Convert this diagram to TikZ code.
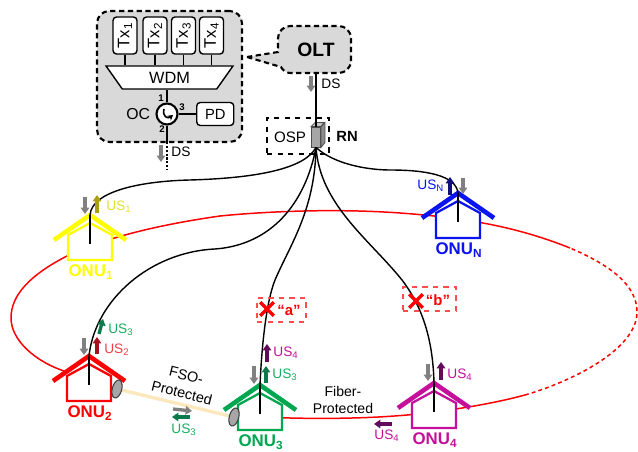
\documentclass[tikz,border=0pt]{standalone}
\usepackage{fontspec}
\setmainfont{Liberation Sans}
\usetikzlibrary{shapes.geometric, shapes.misc, arrows.meta, positioning, backgrounds, calc}
\definecolor{panelgray}{HTML}{D9D9D9}
\definecolor{flowgray}{HTML}{808080}
\definecolor{onuyellow}{HTML}{FFFF00}
\definecolor{onured}{HTML}{FF0000}
\definecolor{onugreen}{HTML}{00A650}
\definecolor{onumagenta}{HTML}{C4109A}
\definecolor{onublue}{HTML}{0A14F0}
\definecolor{usyellow}{HTML}{E0E030}
\definecolor{usred}{HTML}{F03C46}
\definecolor{usgreen}{HTML}{18AE62}
\definecolor{darkyellow}{HTML}{A8A010}
\definecolor{darkred}{HTML}{A81020}
\definecolor{darkgreen}{HTML}{0A7A4C}
\definecolor{darkpurple}{HTML}{640A5C}
\definecolor{darkblue}{HTML}{10107A}
\definecolor{beam}{HTML}{FBE8BD}
\definecolor{lensgray}{HTML}{A6A6A6}

\begin{document}
\begin{tikzpicture}[
  x=0.02cm, y=-0.02cm,
  panel/.style={draw=black, fill=panelgray, dash pattern=on 3pt off 2pt, line width=1.2pt, rounded corners=7pt},
  txbox/.style={rectangle, rounded corners=2pt, draw=black, fill=white, line width=0.8pt, rotate=90,
                minimum width=0.74cm, minimum height=0.48cm, inner sep=0pt,
                font=\fontsize{9.5}{10}\selectfont},
  wdmbox/.style={trapezium, shape border rotate=180, trapezium left angle=58, trapezium right angle=58,
                 draw=black, fill=white, line width=0.8pt, trapezium stretches=true,
                 minimum width=2.54cm, minimum height=0.46cm, inner sep=0pt,
                 font=\fontsize{9.3}{10}\selectfont},
  pdbox/.style={rectangle, rounded corners=2pt, draw=black, fill=white, line width=0.8pt,
                minimum width=0.74cm, minimum height=0.46cm, inner sep=0pt,
                font=\fontsize{8.4}{9}\selectfont},
  lbl/.style={font=\fontsize{8.4}{9}\selectfont, inner sep=0pt},
  portlbl/.style={font=\bfseries\fontsize{5.5}{6}\selectfont, inner sep=0pt},
  uslbl/.style={font=\fontsize{7.8}{8}\selectfont, inner sep=0pt, anchor=west},
  onulbl/.style={font=\bfseries\fontsize{9.6}{10}\selectfont, inner sep=0pt},
  faillbl/.style={draw=red!70, dashed, line width=0.6pt, minimum width=0.98cm, minimum height=0.48cm, inner sep=0pt},
  failx/.style={cross out, draw=red, line width=2pt, minimum size=0.2cm, inner sep=0pt},
  fiber/.style={black, line width=0.8pt},
  thickline/.style={black, line width=1.1pt},
  ring/.style={red, line width=0.85pt},
  flow/.style={-{Triangle[length=3.6pt,width=4.8pt]}, line width=1.9pt},
]
\useasboundingbox (0,0) rectangle (638,452);
% central office
\node[panel, minimum width=2.9cm, minimum height=2.62cm] (co) at (169.5,76.5) {};
\foreach \i/\x in {1/125,2/155,3/183.5,4/211.5}
  \node[txbox] (tx\i) at (\x,35.5) {Tx\textsubscript{\i}};
\node[wdmbox] (wdm) at (169.5,77.5) {WDM};
\foreach \i in {1,...,4}
  \draw[thickline, line width=0.8pt] (tx\i.west) -- (tx\i.west |- wdm.north);
\node[circle, draw=black, fill=white, line width=1.2pt, minimum size=0.42cm, inner sep=0pt] (circ) at (167,114) {};
\node[pdbox, right=0.35cm of circ] (pd) {PD};
\node[lbl, font=\fontsize{9}{10}\selectfont, left=0.1cm of circ] (oc) {OC};
\node[portlbl] (p1) at (161,98) {1};
\node[portlbl] (p2) at (162,129) {2};
\node[portlbl] (p3) at (182,107) {3};
\coordinate (coout) at (167,142);
\coordinate (dsend) at (167,170);
\draw[thickline] (wdm.south -| circ.north) -- (circ.north);
\draw[fiber] (circ.east) -- (pd.west);
\draw[thickline] (circ.south) -- (coout);
\draw[thickline, dash pattern=on 1.2pt off 1pt] (coout) -- (dsend);
\draw[-{Stealth[length=3pt,width=3.5pt]}, line width=0.9pt] ($(circ)+(-3,-5)$) .. controls ($(circ)+(-5,3)$) and ($(circ)+(1,5)$) .. ($(circ)+(6,1)$);
% olt bubble
\draw[panel, sharp corners] (247,57) -- (278,52) [rounded corners=7pt] -- (278,26) -- (351,26) -- (351,73) [rounded corners=3pt] -- (285,73) [sharp corners] -- (281,67) -- cycle;
\node[font=\bfseries\fontsize{11}{12}\selectfont, minimum width=1.46cm, minimum height=0.94cm, inner sep=0pt] (olt) at (316,49.5) {OLT};
% remote node
\node[draw=black, dashed, line width=0.6pt, minimum width=1.24cm, minimum height=0.72cm, inner sep=0pt] (rn) at (298,136) {};
\node[lbl, font=\fontsize{8.6}{9}\selectfont] (osp) at (290,137) {OSP};
\node[draw=black!70, fill=gray!70, line width=0.5pt, minimum width=0.18cm, minimum height=0.4cm, inner sep=0pt] (spl) at (316,137) {};
\draw[draw=black!70, fill=gray!45, line width=0.5pt] (spl.north west) -- ++(4,-4) -- ++(9,0) -- (spl.north east) -- cycle;
\draw[draw=black!70, fill=gray!90, line width=0.5pt] (spl.north east) -- ++(4,-4) -- ++(0,20) -- (spl.south east) -- cycle;
\node[font=\bfseries\fontsize{8.4}{9}\selectfont, inner sep=0pt] (rnlbl) at (347,136) {RN};
\draw[thickline] (spl.north |- olt.south) -- (spl.north);
% onu houses
\foreach \n/\col/\x/\y/\sub in {onu1/onuyellow/90/215/1, onu2/onured/89/356/2, onu3/onugreen/260/385/3,
                                onu4/onumagenta/434/383/4, onun/onublue/458/193/N} {
  \coordinate (\n) at (\x,\y);
  \draw[\col, fill=white, line width=1.3pt, line join=miter] (\n) ++(0,8) -- ++(22,12) -- ++(0,25) -- ++(-44,0) -- ++(0,-25) -- cycle;
  \draw[\col, line width=2.6pt] (\n) ++(-36,25) -- (\n) -- ++(36,25);
  \node[onulbl, text=\col] (\n lbl) at ($(\n)+(1,57)$) {ONU\textsubscript{\sub}};
}
% ring
\begin{scope}[on background layer]
\draw[ring] ($(onu3)+(0,32)$) .. controls (330,420) and (390,418) .. ($(onu4)+(0,29)$) .. controls (465,408) and (495,403) .. (525,395);
\draw[ring, dash pattern=on 2.2pt off 1.8pt] (525,395) .. controls (570,382) and (637,350) .. (637,312) .. controls (637,285) and (610,265) .. (570,248);
\draw[ring] (570,248) .. controls (520,228) and (470,218) .. (400,213) .. controls (330,208) and (260,212) .. (220,216)
  .. controls (150,226) and (100,240) .. (67,256) .. controls (30,275) and (11,295) .. (11,318) .. controls (11,340) and (35,362) .. ($(onu2)+(-22,16)$);
\end{scope}
% fso link
\coordinate (lens2) at (117,389);
\coordinate (lens3) at (234,417);
\draw[beam, line width=1.9pt] (lens2) -- (lens3);
\foreach \l in {lens2,lens3}
  \node[ellipse, draw=black!75, fill=lensgray, line width=0.6pt, minimum width=0.19cm, minimum height=0.37cm, inner sep=0pt, rotate=-15] (\l n) at (\l) {};
% fibers
\draw[fiber] (spl.south) .. controls (305,168) and (260,178) .. (190,180) .. controls (145,181) and (92,190) .. (onu1);
\draw[fiber] (spl.south) .. controls (305,205) and (270,245) .. (215,249) .. controls (150,252) and (95,300) .. (onu2);
\draw[fiber] (spl.south) .. controls (315,210) and (290,245) .. (275,280) .. controls (267,300) and (262,340) .. (onu3);
\draw[fiber] (spl.south) .. controls (320,205) and (370,240) .. (402,280) .. controls (425,310) and (433,345) .. (onu4);
\draw[fiber] (spl.south) .. controls (335,165) and (370,170) .. (390,170) .. controls (425,170) and (456,175) .. (onun);
\foreach \n in {onu1,onu2,onu3,onu4,onun}
  \draw[thickline] (\n) -- ++(0,29);
% signal arrows
\foreach \a/\col/\xa/\ya/\xb/\yb in {
    dsa/flowgray/311/76/311/92, dsb/flowgray/161/145/161/162, dsc/flowgray/85/197/85/214,
    dsd/flowgray/84/338/84/355, dse/flowgray/254/366/254/384, dsf/flowgray/428/364/428/381,
    dsg/flowgray/463/178/463/194, dsh/flowgray/173/409/192/411,
    usa/darkyellow/97/213/97/195, usb/darkred/97/354/97/337, usc/darkgreen/99/334/103/319,
    usd/darkgreen/266/383/266/366, use/darkpurple/267/362/267/344, usf/darkpurple/441/380/441/362,
    usg/darkblue/450/195/450/177, ush/darkgreen/190/417/172/417, usi/darkpurple/392/424/374/424} {
  \coordinate (\a s) at (\xa,\ya);
  \coordinate (\a e) at (\xb,\yb);
  \draw[flow, \col] (\a s) -- (\a e);
}
% signal labels
\node[uslbl, text=black] (dslbla) at (321,84) {DS};
\node[uslbl, text=black] (dslblb) at (171,152) {DS};
\foreach \a/\col/\x/\y/\sub in {
    lbla/usyellow/106/207/1, lblb/usred/104/350/2, lblc/usgreen/108/330/3, lbld/usgreen/272/375/3,
    lble/onumagenta/273/353/4, lblf/onumagenta/447/375/4, lblg/onublue/417/186/N,
    lblh/usgreen/171/430/3, lbli/onumagenta/374/436/4}
  \node[uslbl, text=\col] (\a) at (\x,\y) {US\textsubscript{\sub}};
% protection labels
\node[font=\fontsize{8.2}{10.2}\selectfont, align=center, rotate=-14, inner sep=0pt] (fso) at (184,384) {FSO-\\Protected};
\node[font=\fontsize{8}{9.6}\selectfont, align=center, inner sep=0pt] (fib) at (343,400) {Fiber-\\Protected};
% failures
\node[faillbl] (faila) at (281.5,310) {};
\node[failx] (xa) at (267,309) {};
\node[font=\bfseries\fontsize{8.5}{9}\selectfont, text=red, inner sep=0pt] (txta) at (289,310) {“a”};
\node[faillbl, minimum width=1.06cm] (failb) at (429.5,299) {};
\node[failx] (xb) at (416,301) {};
\node[font=\bfseries\fontsize{8.5}{9}\selectfont, text=red, inner sep=0pt] (txtb) at (438,300) {“b”};
\end{tikzpicture}
\end{document}
